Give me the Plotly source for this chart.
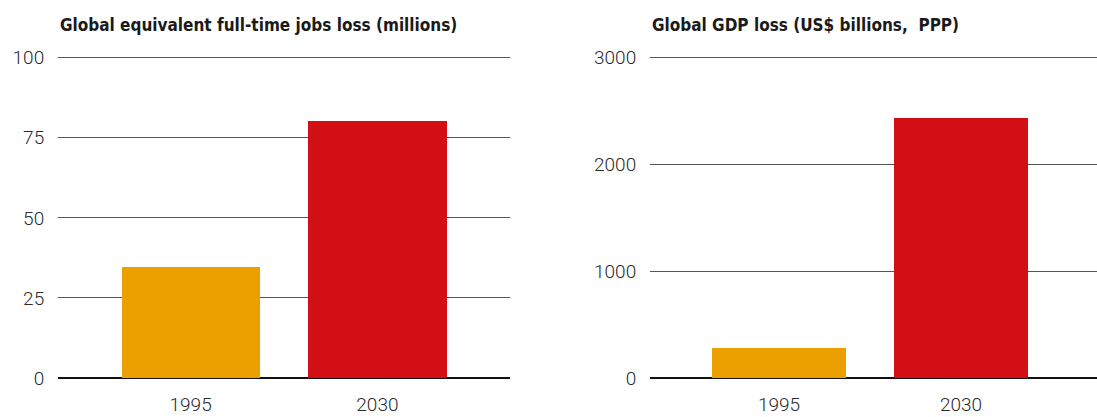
import plotly.graph_objects as go

categories = ["1995", "2030"]
jobs_loss = [34.5, 80.2]
gdp_loss = [272, 2430]
bar_colors = ["#EBA000", "#D30F16"]
jobs_ticks = [0, 25, 50, 75, 100]
gdp_ticks = [0, 1000, 2000, 3000]
titles = ["Global equivalent full-time jobs loss (millions)", "Global GDP loss (US$ billions,  PPP)"]

W, H = 1097, 417
fig = go.Figure()
fig.add_trace(go.Bar(x=categories, y=jobs_loss, marker=dict(color=bar_colors, line=dict(width=0)),
                     width=0.74, xaxis="x", yaxis="y", showlegend=False))
fig.add_trace(go.Bar(x=categories, y=gdp_loss, marker=dict(color=bar_colors, line=dict(width=0)),
                     width=0.74, xaxis="x2", yaxis="y2", showlegend=False))

pad = 1.01
ytop_px = 378 - (378 - 57.7) * pad
ydom = [(H - 378) / H, (H - ytop_px) / H]
tickfont = dict(family="Roboto", size=19, color="#2a2a2a", weight=300)
common_y = dict(showgrid=True, gridcolor="#555555", gridwidth=1.3, zeroline=True, zerolinecolor="#111111",
                zerolinewidth=2.2, showline=False, ticks="outside", ticklen=9, tickcolor="rgba(0,0,0,0)",
                tickfont=tickfont, domain=ydom, automargin=False)
common_x = dict(type="category", showgrid=False, showline=False, ticks="outside", ticklen=9,
                tickcolor="rgba(0,0,0,0)", tickfont=tickfont, automargin=False)

fig.update_layout(
    width=W, height=H, margin=dict(l=0, r=0, t=0, b=0),
    paper_bgcolor="white", plot_bgcolor="white", bargap=0,
    xaxis=dict(domain=[58 / W, 510 / W], range=[-0.71, 1.71], anchor="y", **common_x),
    yaxis=dict(range=[0, 100 * pad], tickvals=jobs_ticks, anchor="x", **common_y),
    xaxis2=dict(domain=[650 / W, 1.0], range=[-0.709, 1.747], anchor="y2", **common_x),
    yaxis2=dict(range=[0, 3000 * pad], tickvals=gdp_ticks, anchor="x2", **common_y),
)
for xpos, t in zip([58 / W, 650 / W], titles):
    fig.add_annotation(text=t, x=xpos, y=1 - 25 / H, xref="paper", yref="paper", xanchor="left",
                       yanchor="middle", showarrow=False,
                       font=dict(family="DejaVu Sans Condensed, Liberation Sans Narrow, Roboto", size=17,
                                 color="#1a1a1a", weight="bold"))

fig.write_html("out.html")
